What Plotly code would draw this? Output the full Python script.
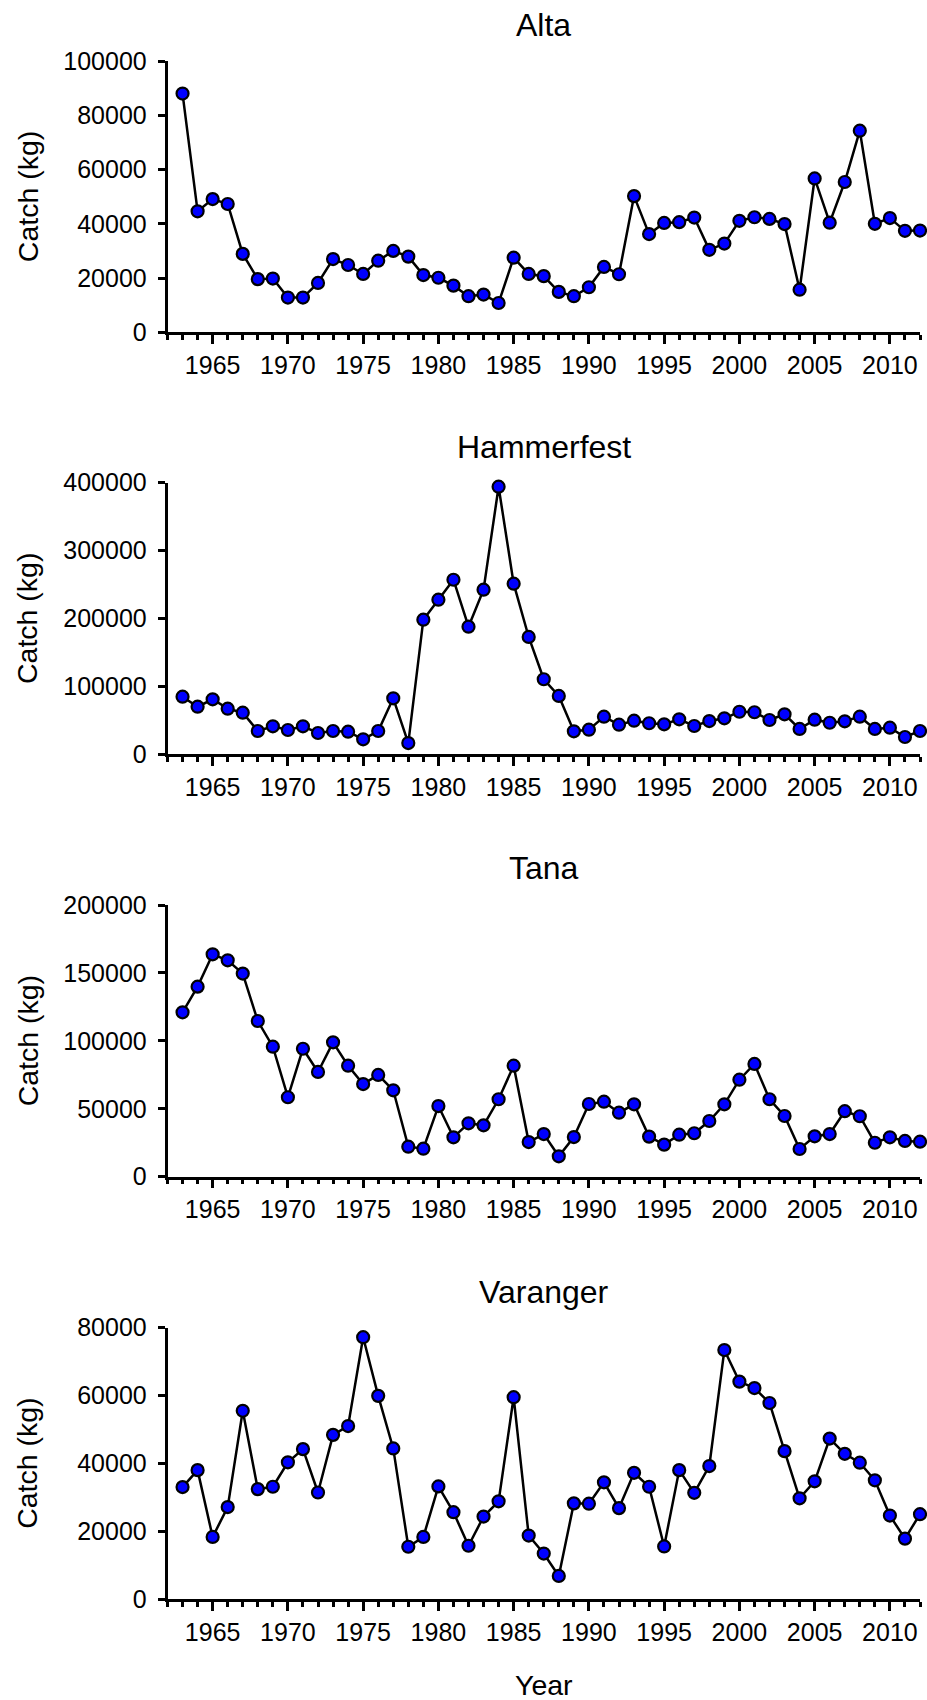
import plotly.graph_objects as go

years = list(range(1963, 2013))

alta = [88000, 44600, 49100, 47300, 28900, 19600, 19800, 12800, 12800, 18200,
        27000, 24800, 21500, 26400, 30000, 27900, 21100, 20100, 17200, 13300,
        13900, 10800, 27500, 21500, 20700, 14900, 13300, 16600, 24100, 21400,
        50200, 36200, 40300, 40600, 42300, 30400, 32700, 41100, 42400, 41800,
        39900, 15700, 56700, 40400, 55400, 74300, 40000, 42100, 37400, 37500]

hammerfest = [84800, 70100, 81000, 67200, 61300, 34300, 41200, 35800, 41200, 31400,
              34300, 33300, 22100, 34300, 82500, 16600, 198200, 227700, 257100, 187900,
              242400, 394100, 251300, 172800, 110500, 85900, 33900, 36200, 55400, 43600,
              49500, 45700, 44200, 51500, 41700, 49000, 53000, 62700, 61900, 50500,
              58900, 37300, 51000, 46500, 48600, 55400, 37300, 39200, 25500, 34300]

tana = [121000, 139900, 163700, 159300, 149500, 114600, 95700, 58500, 94200, 77100,
        98900, 81700, 68200, 74900, 63600, 22100, 20600, 52000, 29000, 39300,
        37800, 57000, 81700, 25500, 31400, 15000, 29200, 53500, 55200, 47100,
        53300, 29500, 23600, 30900, 32000, 41000, 53300, 71400, 83000, 57000,
        44700, 20400, 29700, 31400, 48200, 44500, 25000, 29000, 26300, 25800]

varanger = [33000, 38000, 18300, 27100, 55500, 32400, 33100, 40300, 44200, 31400,
            48400, 51000, 77200, 59900, 44400, 15400, 18300, 33200, 25600, 15700,
            24300, 28800, 59500, 18700, 13400, 6800, 28200, 28100, 34400, 26800,
            37200, 33100, 15500, 38000, 31300, 39200, 73400, 64100, 62200, 57800,
            43600, 29700, 34700, 47300, 42800, 40200, 35000, 24600, 17800, 25000]

regions = ["Alta", "Hammerfest", "Tana", "Varanger"]
series = [alta, hammerfest, tana, varanger]
y_max = [100000, 400000, 200000, 80000]
y_step = [20000, 100000, 50000, 20000]

W, H = 927, 1700
FONT = "Liberation Sans, Arial, sans-serif"

# pixel geometry of each panel: (top, bottom) of the value axis
panel_px = [(61, 332.3), (482.7, 754.3), (905, 1176.7), (1327.7, 1599)]
title_px = [25, 446.7, 868, 1291.7]
x_left, x_right = 167.5, 920

fig = go.Figure()
layout = dict(
    width=W, height=H,
    margin=dict(l=0, r=0, t=0, b=0, autoexpand=False),
    plot_bgcolor="white", paper_bgcolor="white",
    showlegend=False,
    font=dict(family=FONT, size=25, color="black"),
)
annotations = []

for i, (name, vals) in enumerate(zip(regions, series)):
    n = i + 1
    xa = "x" if n == 1 else f"x{n}"
    ya = "y" if n == 1 else f"y{n}"
    fig.add_trace(go.Scatter(
        x=years, y=vals, xaxis=xa, yaxis=ya,
        mode="lines+markers",
        line=dict(color="black", width=2.5),
        marker=dict(size=12, color="#0000FF", line=dict(color="black", width=2.2)),
        cliponaxis=False,
    ))
    top, bot = panel_px[i]
    dom_y = [1 - bot / H, 1 - top / H]
    dom_x = [x_left / W, x_right / W]
    layout[f"xaxis{'' if n == 1 else n}"] = dict(
        domain=dom_x, anchor=ya, range=[1962, 2012], automargin=False,
        showgrid=False, zeroline=False,
        showline=True, linecolor="black", linewidth=2.5,
        ticks="outside", ticklen=9, tickwidth=2.5, tickcolor="black",
        tick0=1965, dtick=5,
        minor=dict(ticks="outside", ticklen=5, tickwidth=2.5, tickcolor="black",
                   tick0=1962, dtick=1),
        tickfont=dict(size=25), ticklabelstandoff=0,
    )
    # companion axis carrying the inward half of each crossing tick
    k = n + 4
    layout[f"xaxis{k}"] = dict(
        overlaying=xa, anchor=ya, range=[1962, 2012], automargin=False,
        showgrid=False, zeroline=False, showline=False,
        ticks="inside", ticklen=5, tickwidth=2.5, tickcolor="black",
        tick0=1962, dtick=1, showticklabels=False,
    )
    layout[f"yaxis{'' if n == 1 else n}"] = dict(
        domain=dom_y, anchor=xa, range=[0, y_max[i]], automargin=False,
        showgrid=False, zeroline=False,
        showline=True, linecolor="black", linewidth=2.5,
        ticks="outside", ticklen=7, tickwidth=2.5, tickcolor="black",
        tick0=0, dtick=y_step[i], tickformat="d",
        tickfont=dict(size=25), ticklabelstandoff=6,
    )
    annotations.append(dict(
        text=name, x=(x_left + x_right) / 2 / W, y=1 - title_px[i] / H,
        xref="paper", yref="paper", xanchor="center", yanchor="middle",
        showarrow=False, font=dict(size=32, family=FONT),
    ))
    annotations.append(dict(
        text="Catch (kg)", x=27.5 / W, y=1 - (top + bot) / 2 / H,
        xref="paper", yref="paper", xanchor="center", yanchor="middle",
        textangle=-90, showarrow=False, font=dict(size=28.5, family=FONT),
    ))

annotations.append(dict(
    text="Year", x=(x_left + x_right) / 2 / W, y=1 - 1685 / H,
    xref="paper", yref="paper", xanchor="center", yanchor="middle",
    showarrow=False, font=dict(size=28.5, family=FONT),
))
layout["annotations"] = annotations
fig.update_layout(**layout)

fig.write_html("out.html")
